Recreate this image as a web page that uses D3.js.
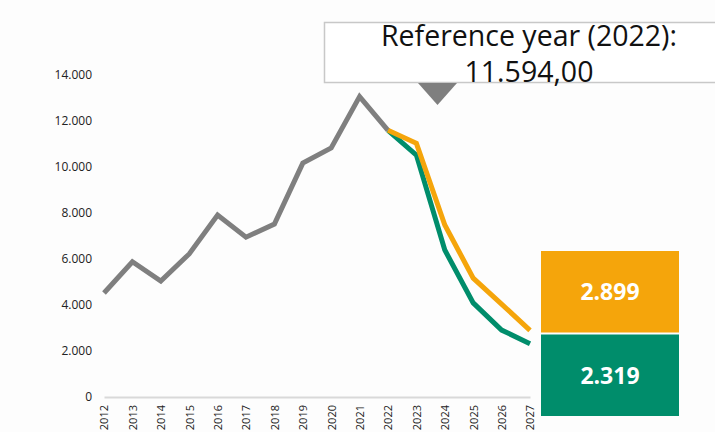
<!DOCTYPE html>
<html>
<head>
<meta charset="utf-8">
<script src="https://cdn.jsdelivr.net/npm/d3@7"></script>
<style>
  html, body { margin: 0; padding: 0; background: #fdfdfd; }
  svg { display: block; font-family: "Open Sans", sans-serif; }
</style>
</head>
<body>
<div id="chart"></div>
<script>
var WIDTH = 715;
var HEIGHT = 432;

// history up to the reference year, then two projections
var years = d3.range(2012, 2028);
var histYears = [2012, 2013, 2014, 2015, 2016, 2017, 2018, 2019, 2020, 2021, 2022];
var histValues = [4520, 5880, 5040, 6220, 7910, 6950, 7520, 10170, 10830, 13060, 11594];
var projYears = [2022, 2023, 2024, 2025, 2026, 2027];
var orangeValues = [11594, 11030, 7480, 5170, 4040, 2899];
var greenValues = [11594, 10520, 6390, 4090, 2910, 2319];
var yTicks = [0, 2000, 4000, 6000, 8000, 10000, 12000, 14000];
var refYear = 2022;

var GRAY = '#7f7f7f';
var ORANGE = '#f5a50b';
var GREEN = '#008d6b';

var locale = d3.formatLocale({ decimal: ',', thousands: '.', grouping: [3], currency: ['', ''] });
var fmtInt = locale.format(',d');
var fmtDec = locale.format(',.2f');

var svg = d3.select('#chart').append('svg')
  .attr('width', WIDTH)
  .attr('height', HEIGHT);

var x = d3.scaleLinear().domain([2012, 2027]).range([104, 530]);
var y = d3.scaleLinear().domain([0, 14000]).range([397, 75]);

// y axis, labels only
var yAxis = svg.append('g')
  .attr('transform', 'translate(104,0)')
  .call(d3.axisLeft(y).tickValues(yTicks).tickSize(0).tickPadding(12).tickFormat(fmtInt));
yAxis.select('.domain').remove();
yAxis.selectAll('text')
  .style('font-size', '12px')
  .style('font-family', '"Open Sans", sans-serif')
  .attr('fill', '#222');

// x axis with light baseline, rotated year labels
var xAxis = svg.append('g')
  .attr('transform', 'translate(0,397)')
  .call(d3.axisBottom(x).tickValues(years).tickSize(0).tickSizeOuter(0).tickFormat(d3.format('d')));
xAxis.select('.domain')
  .attr('stroke', '#d9d9d9')
  .attr('stroke-width', 2);
xAxis.selectAll('text')
  .attr('transform', 'rotate(-90)')
  .attr('x', -8)
  .attr('y', 0)
  .attr('dy', '0.35em')
  .style('text-anchor', 'end')
  .style('font-size', '11px')
  .style('font-family', '"Open Sans", sans-serif')
  .attr('fill', '#222');

var line = d3.line()
  .x(function (d) { return x(d[0]); })
  .y(function (d) { return y(d[1]); });

function drawSeries (xs, vs, color) {
  svg.append('path')
    .datum(d3.zip(xs, vs))
    .attr('d', line)
    .attr('fill', 'none')
    .attr('stroke', color)
    .attr('stroke-width', 5)
    .attr('stroke-linejoin', 'miter');
}

drawSeries(histYears, histValues, GRAY);
drawSeries(projYears, greenValues, GREEN);
drawSeries(projYears, orangeValues, ORANGE);

// reference-year callout
var callout = svg.append('g');
callout.append('rect')
  .attr('x', 324.5)
  .attr('y', 22.5)
  .attr('width', 420)
  .attr('height', 60)
  .attr('fill', '#ffffff')
  .attr('stroke', '#c8c8c8')
  .attr('stroke-width', 1.5);
callout.append('path')
  .attr('d', 'M418,83 L457,83 L437.5,105 Z')
  .attr('fill', GRAY);
callout.append('text')
  .attr('x', 529)
  .attr('y', 46)
  .attr('text-anchor', 'middle')
  .style('font-size', '28.5px')
  .attr('fill', '#111')
  .text('Reference year (' + refYear + '):');
callout.append('text')
  .attr('x', 529)
  .attr('y', 82)
  .attr('text-anchor', 'middle')
  .style('font-size', '28.5px')
  .attr('fill', '#111')
  .text(fmtDec(histValues[histValues.length - 1]));

// final value boxes
var boxes = [
  { value: orangeValues[orangeValues.length - 1], color: ORANGE, y0: 251, y1: 332.5 },
  { value: greenValues[greenValues.length - 1], color: GREEN, y0: 334.5, y1: 416 }
];
var box = svg.selectAll('g.box')
  .data(boxes)
  .enter()
  .append('g')
  .attr('class', 'box');
box.append('rect')
  .attr('x', 541)
  .attr('y', function (d) { return d.y0; })
  .attr('width', 138)
  .attr('height', function (d) { return d.y1 - d.y0; })
  .attr('fill', function (d) { return d.color; });
box.append('text')
  .attr('x', 610)
  .attr('y', function (d) { return (d.y0 + d.y1) / 2; })
  .attr('dy', '0.36em')
  .attr('text-anchor', 'middle')
  .style('font-size', '23px')
  .style('font-weight', 'bold')
  .attr('fill', '#ffffff')
  .text(function (d) { return fmtInt(d.value); });
</script>
</body>
</html>
